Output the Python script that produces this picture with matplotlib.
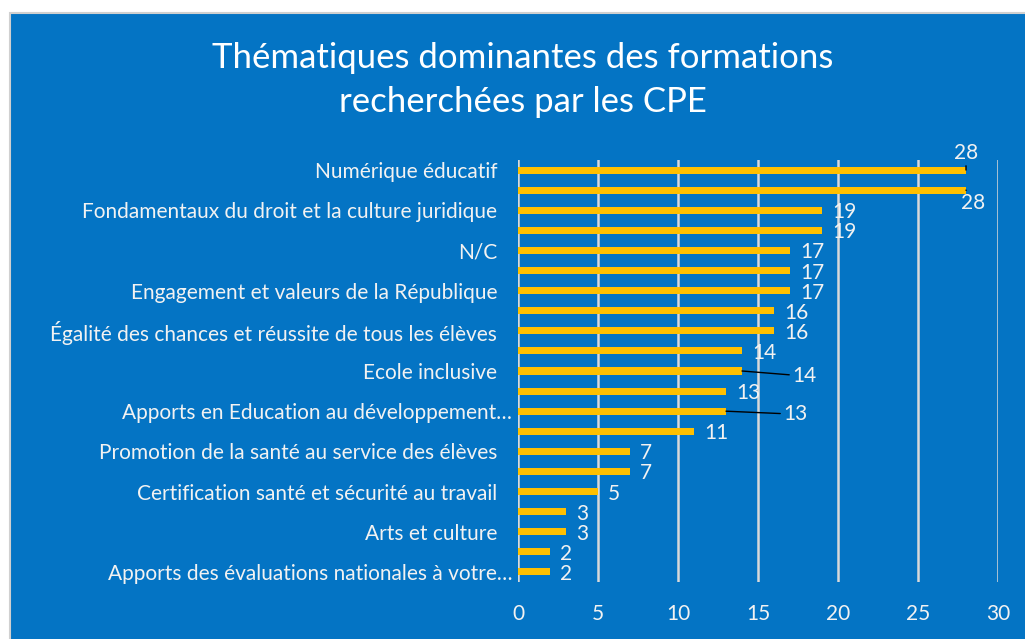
import matplotlib.pyplot as plt
import matplotlib.transforms as mtransforms
from matplotlib.patches import Rectangle

plt.rcParams['font.family'] = ['Lato', 'DejaVu Sans']

# data (top to bottom)
values = [28, 28, 19, 19, 17, 17, 17, 16, 16, 14, 14, 13, 13, 11, 7, 7, 5, 3, 3, 2, 2]
shown_labels = ["Numérique éducatif",
                "Fondamentaux du droit et la culture juridique",
                "N/C",
                "Engagement et valeurs de la République",
                "Égalité des chances et réussite de tous les élèves",
                "Ecole inclusive",
                "Apports en Education au développement…",
                "Promotion de la santé au service des élèves",
                "Certification santé et sécurité au travail",
                "Arts et culture",
                "Apports des évaluations nationales à votre…"]
xticks = [0, 5, 10, 15, 20, 25, 30]

# label offsets in pixels (dx, dy, ha, leader line)
label_pos = {0: (0, 17, 'center', True), 1: (7, -13, 'center', True),
             10: (50, -5, 'left', True), 12: (57, -3, 'left', True)}

blue = '#0474C4'
yellow = '#FFC000'
txt = '#F2F2F2'

fig = plt.figure(figsize=(10.25, 6.39), dpi=100)
fig.patch.set_facecolor('white')
fig.add_artist(Rectangle((10 / 1025, -0.01), 1, 1.01 - 13 / 639, transform=fig.transFigure,
                         facecolor=blue, edgecolor='#D0D0D0', lw=1.5, zorder=-10))

ax = fig.add_axes([518 / 1025, 1 - 582 / 639, 480 / 1025, 422 / 639])
ax.set_facecolor('none')
pos = list(range(len(values)))
ax.barh(pos, values, height=0.35, color=yellow, zorder=3)
ax.set_ylim(len(values) - 0.5, -0.5)
ax.set_xlim(0, 30)
ax.set_xticks(xticks)
ax.grid(axis='x', color='#D9D9D9', lw=1.8, zorder=1)
ax.tick_params(axis='x', length=0, pad=16, labelsize=15, labelcolor=txt)
ax.tick_params(axis='y', length=0, pad=15, labelsize=15, labelcolor=txt)
for s in ax.spines.values():
    s.set_visible(False)

ax.set_yticks(pos[::2])
ax.set_yticklabels(shown_labels)
for lab in ax.get_yticklabels():
    if lab.get_text().endswith('…'):
        lab.set_transform(lab.get_transform() +
                          mtransforms.ScaledTranslation(15 / 100, 0, fig.dpi_scale_trans))

for i, v in enumerate(values):
    dx, dy, ha, leader = label_pos.get(i, (10, -2, 'left', False))
    ap = dict(arrowstyle='-', color='black', lw=1, shrinkA=0, shrinkB=0) if leader else None
    ax.annotate(str(v), xy=(v, i), xytext=(dx, dy), textcoords='offset pixels',
                ha=ha, va='center', fontsize=15, color=txt, arrowprops=ap, zorder=4)

fig.text(523 / 1025, 1 - 80 / 639, "Thématiques dominantes des formations\nrecherchées par les CPE",
         ha='center', va='center', fontsize=25, color='white', linespacing=1.5)

fig.savefig('out.png', dpi=100, facecolor=fig.get_facecolor())
